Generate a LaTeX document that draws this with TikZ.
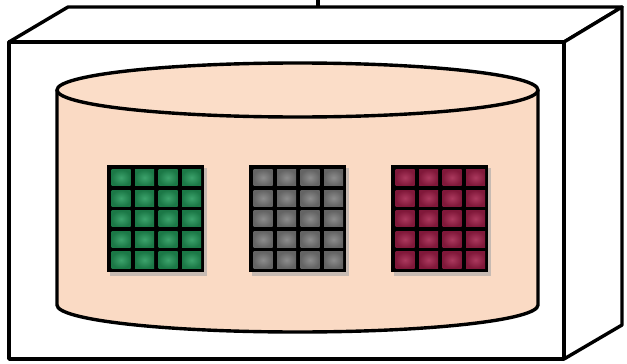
\documentclass[tikz,border=0pt]{standalone}
\definecolor{peach}{RGB}{250,218,196}
\definecolor{peachtop}{RGB}{251,221,200}
\definecolor{gridgreen}{RGB}{34,150,88}
\definecolor{gridgray}{RGB}{125,125,125}
\definecolor{gridred}{RGB}{160,30,72}
\tikzset{
  outline/.style={draw=black, line width=3.4pt, line join=round},
  cell/.style={inner color=#1!88!white, outer color=#1!80!black},
}
\newcommand{\mygrid}[4]{% name, x, y, color
  \fill[black!35, opacity=0.6] (#2+3,#3+3) rectangle (#2+100,#3+111);
  \fill[black] (#2,#3) coordinate (#1) rectangle (#2+97,#3+107);
  \foreach \i in {0,1,2,3}{
    \foreach \j in {0,1,2,3,4}{
      \shade[cell=#4] (#2+\i*23.5+4.5,#3+\j*20.6+4.5) rectangle (#2+\i*23.5+23.5,#3+\j*20.6+20.6);
    }
  }
}
\begin{document}
\begin{tikzpicture}[x=1pt,y=-1pt]
\useasboundingbox (0,0) rectangle (627,364);
% box
\coordinate (ftl) at (9,42);
\coordinate (ftr) at (564,42);
\coordinate (fbr) at (564,359);
\coordinate (fbl) at (9,359);
\coordinate (btl) at (68,7);
\coordinate (btr) at (622,7);
\coordinate (bbr) at (622,325);
\coordinate (tick) at (318,0);
\coordinate (tickb) at (318,7);
\draw[outline, fill=white] (ftl) -- (btl) -- (btr) -- (ftr) -- cycle;
\draw[outline, fill=white] (ftr) -- (btr) -- (bbr) -- (fbr) -- cycle;
\draw[outline, fill=white] (ftl) rectangle (fbr);
\draw[outline] (tickb) -- (tick);
% cylinder
\fill[peach] (57,90) -- (57,305) arc[start angle=180,end angle=0,x radius=240.5,y radius=27] -- (538,90) -- cycle;
\draw[outline] (57,90) -- (57,305) arc[start angle=180,end angle=0,x radius=240.5,y radius=27] -- (538,90);
\draw[outline, fill=peachtop] (297.5,90) ellipse[x radius=240.5, y radius=27];
% grids
\mygrid{g1}{107}{165}{gridgreen}
\mygrid{g2}{249}{165}{gridgray}
\mygrid{g3}{391}{165}{gridred}
\end{tikzpicture}
\end{document}
